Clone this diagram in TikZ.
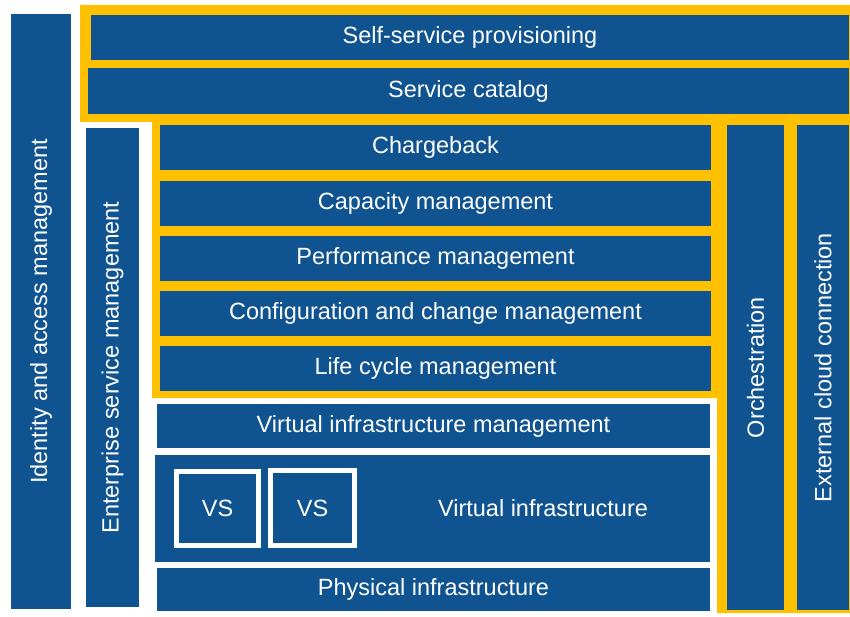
\documentclass[tikz,border=0pt]{standalone}
\usepackage{fontspec}
\setmainfont{Liberation Sans}
\definecolor{stackblue}{RGB}{16,83,145}
\definecolor{stackyellow}{RGB}{255,192,0}

\begin{document}
\begin{tikzpicture}[x=1pt, y=-1pt]
    \useasboundingbox (0, 0) rectangle (850, 617);
    % yellow frame behind the managed layers
    \fill[stackyellow] (80, 5) -- (850, 5) -- (850, 613) -- (717, 613) -- (717, 398)
      -- (152, 398) -- (152, 122) -- (80, 122) -- cycle;

    \begin{scope}[every node/.style={rectangle, fill=stackblue, text=white, inner sep=0pt,
        font=\fontsize{23.5}{28}\selectfont}]
      \node[rotate=90, minimum width=595pt, minimum height=60pt] (iam) at (41, 311.5) {Identity and access management};
      \node[rotate=90, minimum width=479pt, minimum height=53pt] (esm) at (112.5, 367.5) {Enterprise service management};
      \node[rotate=90, minimum width=485pt, minimum height=57pt] (orch) at (755.5, 367.5) {Orchestration};
      \node[rotate=90, minimum width=485pt, minimum height=52pt] (ext) at (823, 367.5) {External cloud connection};

      \node[minimum width=758pt, minimum height=45pt] (ssp) at (470, 37.5) {Self-service provisioning};
      \node[minimum width=761pt, minimum height=46pt] (cat) at (468.5, 91) {Service catalog};

      \node[minimum width=551pt, minimum height=45pt] (charge) at (435.5, 147.5) {Chargeback};
      \node[minimum width=551pt, minimum height=45pt] (cap) at (435.5, 203.5) {Capacity management};
      \node[minimum width=551pt, minimum height=45pt] (perf) at (435.5, 258.5) {Performance management};
      \node[minimum width=551pt, minimum height=45pt] (conf) at (435.5, 313.5) {Configuration and change management};
      \node[minimum width=551pt, minimum height=45pt] (life) at (435.5, 368.5) {Life cycle management};

      \node[minimum width=553pt, minimum height=44pt] (vim) at (433.5, 426) {Virtual infrastructure management};
      \node[minimum width=555pt, minimum height=107pt] (vi) at (432.5, 508.5) {};
      \node[minimum width=553pt, minimum height=43pt] (phys) at (433.5, 589.5) {Physical infrastructure};

      \node[draw=white, line width=5pt, minimum width=82pt, minimum height=74pt] (vs1) at (217.5, 508.5) {VS};
      \node[draw=white, line width=5pt, minimum width=84pt, minimum height=75pt] (vs2) at (312.5, 508) {VS};
      \node[fill=none] (vitext) at (543, 508) {Virtual infrastructure};
    \end{scope}

\end{tikzpicture}
\end{document}
